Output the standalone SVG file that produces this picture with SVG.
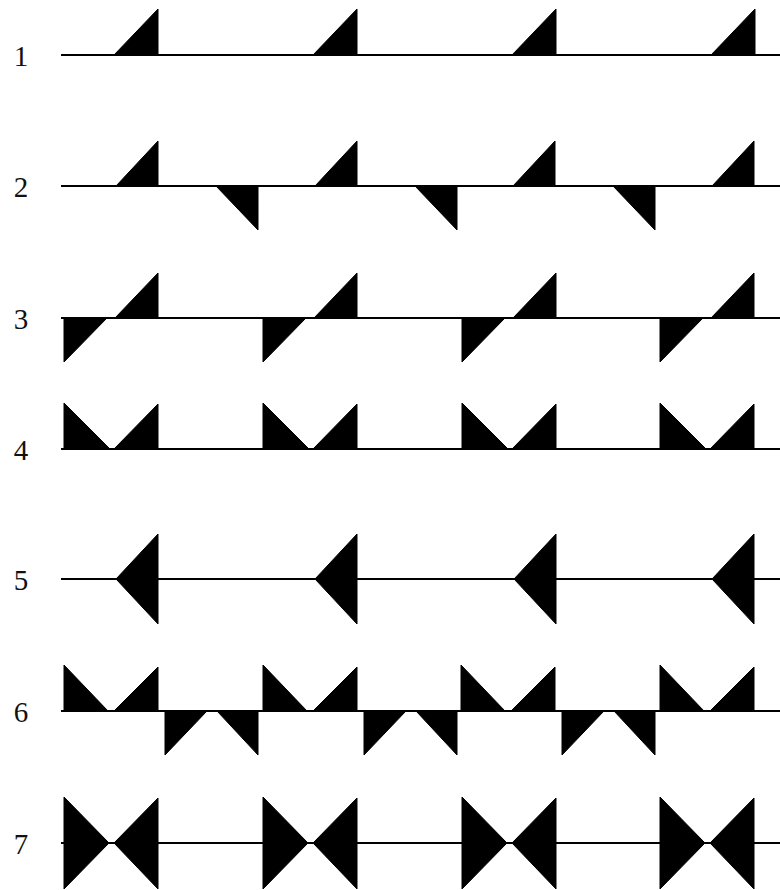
<svg xmlns="http://www.w3.org/2000/svg" xmlns:xlink="http://www.w3.org/1999/xlink" width="780" height="890" viewBox="0 0 780 890">
<style>
.ln{stroke:#000;stroke-width:2;fill:none}
.tr{fill:#000;stroke:#000;stroke-width:1}
.lb{font-family:"Liberation Serif","DejaVu Serif",serif;font-size:29px;fill:#111;text-anchor:middle}
</style>
<defs>
<g id="m1"><polygon class="tr" points="114,0 158,0 158,-46"/></g>
<g id="m2"><polygon class="tr" points="116,0 158,0 158,-45"/><polygon class="tr" points="216,0 258,0 258,44"/></g>
<g id="m2a"><polygon class="tr" points="116,0 158,0 158,-45"/></g>
<g id="m3"><polygon class="tr" points="115,0 158,0 158,-45"/><polygon class="tr" points="64,0 107,0 64,44"/></g>
<g id="m4"><polygon class="tr" points="64,0 64,-46 110,0"/><polygon class="tr" points="114,0 158,0 158,-45"/></g>
<g id="m5"><polygon class="tr" points="116,0 158,-45 158,45"/></g>
<g id="m6"><polygon class="tr" points="64,0 64,-46 108,0"/><polygon class="tr" points="114,0 158,0 158,-44"/><polygon class="tr" points="165,0 207,0 165,44"/><polygon class="tr" points="217,0 258,0 258,44"/></g>
<g id="m6a"><polygon class="tr" points="64,0 64,-46 108,0"/><polygon class="tr" points="114,0 158,0 158,-44"/></g>
<g id="m7"><polygon class="tr" points="64,-46 64,46 109,0"/><polygon class="tr" points="114,0 158,-45 158,46"/></g>
</defs>
<g id="labels">
<text class="lb" x="21" y="66">1</text>
<text class="lb" x="21" y="197">2</text>
<text class="lb" x="21" y="329">3</text>
<text class="lb" x="21" y="460">4</text>
<text class="lb" x="21" y="590">5</text>
<text class="lb" x="21" y="722">6</text>
<text class="lb" x="21" y="854">7</text>
</g>
<g id="lines">
<line class="ln" x1="61" y1="55" x2="780" y2="55"/>
<line class="ln" x1="61" y1="186" x2="780" y2="186"/>
<line class="ln" x1="61" y1="318" x2="780" y2="318"/>
<line class="ln" x1="61" y1="449" x2="780" y2="449"/>
<line class="ln" x1="61" y1="579" x2="780" y2="579"/>
<line class="ln" x1="61" y1="711" x2="780" y2="711"/>
<line class="ln" x1="61" y1="843" x2="780" y2="843"/>
</g>
<g id="row1">
<use xlink:href="#m1" transform="translate(0,55)"/><use xlink:href="#m1" transform="translate(199,55)"/><use xlink:href="#m1" transform="translate(398,55)"/><use xlink:href="#m1" transform="translate(597,55)"/>
</g>
<g id="row2">
<use xlink:href="#m2" transform="translate(0,186)"/><use xlink:href="#m2" transform="translate(199,186)"/><use xlink:href="#m2" transform="translate(397,186)"/><use xlink:href="#m2a" transform="translate(596,186)"/>
</g>
<g id="row3">
<use xlink:href="#m3" transform="translate(0,318)"/><use xlink:href="#m3" transform="translate(199,318)"/><use xlink:href="#m3" transform="translate(398,318)"/><use xlink:href="#m3" transform="translate(596,318)"/>
</g>
<g id="row4">
<use xlink:href="#m4" transform="translate(0,449)"/><use xlink:href="#m4" transform="translate(199,449)"/><use xlink:href="#m4" transform="translate(398,449)"/><use xlink:href="#m4" transform="translate(596,449)"/>
</g>
<g id="row5">
<use xlink:href="#m5" transform="translate(0,579)"/><use xlink:href="#m5" transform="translate(199,579)"/><use xlink:href="#m5" transform="translate(398,579)"/><use xlink:href="#m5" transform="translate(596,579)"/>
</g>
<g id="row6">
<use xlink:href="#m6" transform="translate(0,711)"/><use xlink:href="#m6" transform="translate(199,711)"/><use xlink:href="#m6" transform="translate(397,711)"/><use xlink:href="#m6a" transform="translate(596,711)"/>
</g>
<g id="row7">
<use xlink:href="#m7" transform="translate(0,843)"/><use xlink:href="#m7" transform="translate(199,843)"/><use xlink:href="#m7" transform="translate(398,843)"/><use xlink:href="#m7" transform="translate(596,843)"/>
</g>
</svg>
